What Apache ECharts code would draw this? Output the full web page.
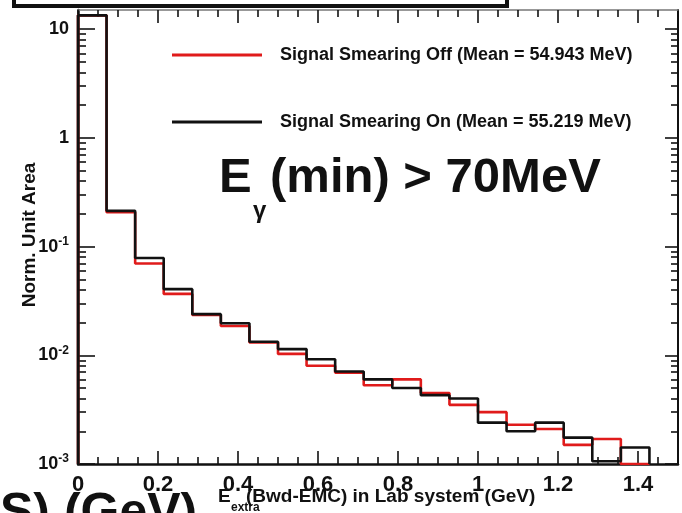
<!DOCTYPE html>
<html><head><meta charset="utf-8">
<script src="https://cdn.jsdelivr.net/npm/echarts@6/dist/echarts.min.js"></script>
<style>html,body{margin:0;padding:0;background:#fff}#c{width:682px;height:513px}</style>
</head><body><div id="c"></div>
<script>
// ---- data ----
const binEdges = [0, 0.0714, 0.1429, 0.2143, 0.2857, 0.3571, 0.4286, 0.5, 0.5714, 0.6429, 0.7143,
                  0.7857, 0.8571, 0.9286, 1.0, 1.0714, 1.1429, 1.2143, 1.2857, 1.3571, 1.4286];
const smearingOff = [13.4, 0.207, 0.0698, 0.0367, 0.0235, 0.0186, 0.0131, 0.0103, 0.0080, 0.0069,
                     0.0053, 0.0060, 0.0045, 0.0035, 0.0030, 0.0023, 0.0021, 0.0015, 0.0017, 0.0010];
const smearingOn  = [13.4, 0.213, 0.0785, 0.0406, 0.0239, 0.0197, 0.0133, 0.0114, 0.0092, 0.0071,
                     0.0060, 0.0050, 0.0043, 0.0040, 0.0024, 0.0020, 0.0024, 0.00175, 0.00106, 0.00142];
const seriesNames = ['Signal Smearing Off (Mean = 54.943 MeV)', 'Signal Smearing On (Mean = 55.219 MeV)'];
const xTickValues = [0, 0.2, 0.4, 0.6, 0.8, 1.0, 1.2, 1.4];
const xTickLabels = ['0', '0.2', '0.4', '0.6', '0.8', '1', '1.2', '1.4'];
const yDecades = [0.001, 0.01, 0.1, 1, 10];
const yTickBase = ['10', '10', '10', '1', '10'];
const yTickExp  = ['-3', '-2', '-1', '', ''];
const yTitle = 'Norm. Unit Area';
const xMin = 0, xMax = 1.5, yMin = 0.001, yMax = 15;

// ---- helpers ----
function stepPoints(vals) {
  const pts = [[binEdges[0], yMin]];
  for (let i = 0; i < vals.length; i++) pts.push([binEdges[i], vals[i]]);
  pts.push([binEdges[binEdges.length - 1], yMin]);
  return pts;
}
const xMinor = [];
for (let v = 0.05; v < xMax - 1e-9; v += 0.05) {
  const r = Math.round(v * 100) / 100;
  if (Math.abs(r / 0.2 - Math.round(r / 0.2)) > 1e-6) xMinor.push(r);
}
const yLogMax = Math.log10(yMax);
const yMajorLog = yDecades.map(v => Math.log10(v));
const yMinorLog = [];
for (let d = -3; d <= 1; d++) for (let k = 2; k <= 9; k++) {
  const l = Math.log10(k) + d; if (l <= yLogMax) yMinorLog.push(l);
}
const black = '#111';
const tickAxisX = (pos, vals, len, showLine, lineColor, lineW) => ({
  type: 'value', position: pos, min: xMin, max: xMax, gridIndex: 0,
  axisLine: { show: showLine, onZero: false, lineStyle: { color: lineColor, width: lineW } },
  axisTick: { show: true, inside: true, length: len, customValues: vals, lineStyle: { color: black, width: 1.6 } },
  axisLabel: { show: false }, splitLine: { show: false }
});
const tickAxisY = (pos, vals, len, showLine, lineW) => ({
  type: 'value', position: pos, min: -3, max: yLogMax, gridIndex: 0,
  axisLine: { show: showLine, onZero: false, lineStyle: { color: black, width: lineW } },
  axisTick: { show: true, inside: true, length: len, customValues: vals, lineStyle: { color: black, width: 1.6 } },
  axisLabel: { show: false }, splitLine: { show: false }
});

const chart = echarts.init(document.getElementById('c'), null, { renderer: 'canvas' });
chart.setOption({
  animation: false,
  backgroundColor: '#fff',
  textStyle: { fontFamily: 'Liberation Sans' },
  grid: { left: 78, right: 4, top: 10, bottom: 49, containLabel: false },
  legend: {
    data: seriesNames, orient: 'vertical', left: 172, top: 45, padding: 0,
    icon: 'path://M0,0H90V3H0Z',
    itemWidth: 90, itemHeight: 20, itemGap: 47,
    textStyle: { fontFamily: 'Liberation Sans', fontSize: 18, fontWeight: 'bold', color: black, lineHeight: 20, padding: [0, 0, 0, 13] }
  },
  xAxis: [
    {
      type: 'value', position: 'bottom', min: xMin, max: xMax,
      axisLine: { show: true, onZero: false, lineStyle: { color: black, width: 2.5 } },
      axisTick: { show: true, inside: true, length: 13, customValues: xTickValues, lineStyle: { color: black, width: 1.6 } },
      axisLabel: {
        customValues: xTickValues, margin: 10, color: black, fontSize: 22, fontWeight: 'bold', lineHeight: 22,
        fontFamily: 'Liberation Sans',
        formatter: v => { const i = xTickValues.findIndex(t => Math.abs(t - v) < 1e-6); return i >= 0 ? xTickLabels[i] : ''; }
      },
      splitLine: { show: false }
    },
    tickAxisX('bottom', xMinor, 7, false, black, 0),
    tickAxisX('top', xTickValues, 13, true, '#777', 1.5),
    tickAxisX('top', xMinor, 7, false, black, 0)
  ],
  yAxis: [
    {
      type: 'log', logBase: 10, position: 'left', min: yMin, max: yMax,
      axisLine: { show: true, onZero: false, lineStyle: { color: black, width: 2.5 } },
      axisTick: { show: false },
      axisLabel: {
        margin: 9, color: black, fontFamily: 'Liberation Sans',
        formatter: v => {
          const l = Math.log10(v), e = Math.round(l);
          if (Math.abs(l - e) > 1e-6) return '';
          const i = yDecades.findIndex(d => Math.abs(Math.log10(d) - e) < 1e-6);
          if (i < 0) return '';
          return yTickExp[i] ? '{b|' + yTickBase[i] + '}{s|' + yTickExp[i] + '}' : '{b|' + yTickBase[i] + '}';
        },
        rich: {
          b: { fontSize: 18, fontWeight: 'bold', color: black, lineHeight: 22, fontFamily: 'Liberation Sans' },
          s: { fontSize: 12, fontWeight: 'bold', color: black, lineHeight: 12, verticalAlign: 'top', fontFamily: 'Liberation Sans' }
        }
      },
      splitLine: { show: false }
    },
    tickAxisY('left', yMajorLog, 17, false, 0),
    tickAxisY('left', yMinorLog, 8, false, 0),
    tickAxisY('right', yMajorLog, 13, true, 2),
    tickAxisY('right', yMinorLog, 7, false, 0)
  ],
  series: [
    {
      name: seriesNames[0], type: 'line', step: 'end', xAxisIndex: 0, yAxisIndex: 0,
      data: stepPoints(smearingOff), symbol: 'none', showSymbol: false, clip: true, z: 3,
      lineStyle: { color: '#e01b1b', width: 2.6 }, itemStyle: { color: '#e01b1b' }
    },
    {
      name: seriesNames[1], type: 'line', step: 'end', xAxisIndex: 0, yAxisIndex: 0,
      data: stepPoints(smearingOn), symbol: 'none', showSymbol: false, clip: true, z: 4,
      lineStyle: { color: black, width: 2.6 }, itemStyle: { color: black }
    }
  ],
  graphic: [
    { type: 'rect', shape: { x: 14, y: -14, width: 493, height: 20 }, style: { fill: '#fff', stroke: black, lineWidth: 4 } },
    { type: 'text', x: 30, y: 235, rotation: Math.PI / 2, style: { text: yTitle, font: 'bold 19px "Liberation Sans"', fill: black, align: 'center', verticalAlign: 'middle' } },
    { type: 'text', x: 219, y: 178, style: { text: 'E', font: 'bold 49px "Liberation Sans"', fill: black, align: 'left', verticalAlign: 'middle' } },
    { type: 'text', x: 253, y: 211, style: { text: 'γ', font: 'bold 24px "Liberation Sans"', fill: black, align: 'left', verticalAlign: 'middle' } },
    { type: 'text', x: 270, y: 178, style: { text: '(min) > 70MeV', font: 'bold 49px "Liberation Sans"', fill: black, align: 'left', verticalAlign: 'middle' } },
    { type: 'text', x: 218, y: 497, style: { text: 'E', font: 'bold 19px "Liberation Sans"', fill: black, align: 'left', verticalAlign: 'middle' } },
    { type: 'text', x: 231, y: 508, style: { text: 'extra', font: 'bold 12px "Liberation Sans"', fill: black, align: 'left', verticalAlign: 'middle' } },
    { type: 'text', x: 246, y: 497, style: { text: '(Bwd-EMC) in Lab system (GeV)', font: 'bold 19px "Liberation Sans"', fill: black, align: 'left', verticalAlign: 'middle' } },
    { type: 'text', x: 0, y: 514, style: { text: 'S) (GeV)', font: 'bold 50px "Liberation Sans"', fill: black, align: 'left', verticalAlign: 'middle' } }
  ]
});
</script></body></html>
